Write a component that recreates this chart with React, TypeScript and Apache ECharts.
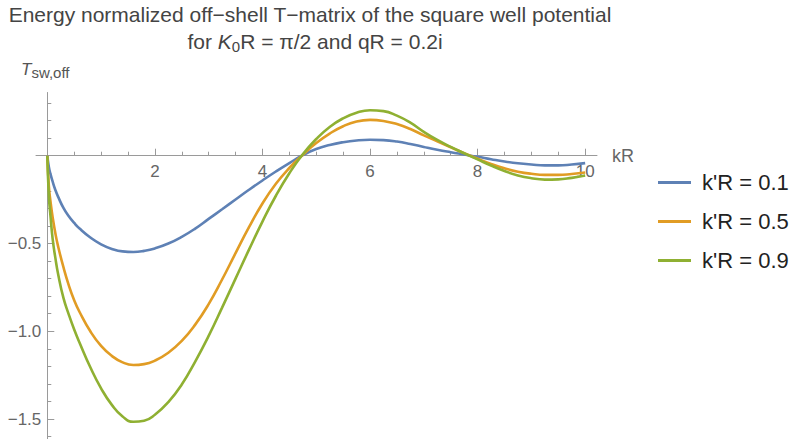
import React, { useEffect, useRef } from "react";
import * as echarts from "echarts";

// kR sample positions shared by the three curves
const kR = [0, 0.03, 0.06, 0.1, 0.15, 0.2, 0.3, 0.4, 0.5, 0.6, 0.8, 1.0, 1.2, 1.4, 1.6, 1.8, 2.0, 2.25, 2.5, 2.75, 3.0, 3.25, 3.5, 3.75, 4.0, 4.25, 4.5, 4.75, 5.0, 5.25, 5.5, 5.75, 6.0, 6.25, 6.5, 6.75, 7.0, 7.25, 7.5, 7.75, 8.0, 8.25, 8.5, 8.75, 9.0, 9.25, 9.5, 9.75, 10];

// T_sw,off for k'R = 0.1
const tK01 = [0, -0.065, -0.105, -0.148, -0.195, -0.233, -0.297, -0.345, -0.383, -0.415, -0.466, -0.505, -0.531, -0.545, -0.548, -0.542, -0.528, -0.5, -0.462, -0.415, -0.36, -0.305, -0.249, -0.194, -0.141, -0.09, -0.042, 0.003, 0.038, 0.061, 0.077, 0.087, 0.091, 0.089, 0.081, 0.067, 0.05, 0.034, 0.02, 0.007, -0.006, -0.02, -0.033, -0.043, -0.05, -0.055, -0.055, -0.05, -0.042];
// T_sw,off for k'R = 0.5
const tK05 = [0, -0.177, -0.262, -0.351, -0.442, -0.515, -0.635, -0.738, -0.823, -0.89, -1.0, -1.083, -1.14, -1.177, -1.192, -1.187, -1.167, -1.122, -1.055, -0.962, -0.845, -0.705, -0.555, -0.407, -0.272, -0.16, -0.07, 0.005, 0.072, 0.126, 0.168, 0.195, 0.204, 0.198, 0.18, 0.152, 0.116, 0.082, 0.048, 0.015, -0.017, -0.047, -0.072, -0.091, -0.103, -0.109, -0.109, -0.104, -0.096];
// T_sw,off for k'R = 0.9
const tK09 = [0, -0.233, -0.346, -0.475, -0.582, -0.672, -0.81, -0.905, -0.99, -1.065, -1.205, -1.325, -1.419, -1.485, -1.515, -1.509, -1.475, -1.403, -1.303, -1.172, -1.026, -0.865, -0.7, -0.535, -0.375, -0.228, -0.1, 0.008, 0.095, 0.164, 0.213, 0.245, 0.259, 0.254, 0.228, 0.188, 0.136, 0.09, 0.05, 0.014, -0.021, -0.056, -0.087, -0.112, -0.128, -0.136, -0.135, -0.126, -0.113];

const seriesNames = ["k'R = 0.1", "k'R = 0.5", "k'R = 0.9"];
const seriesColors = ["#5e81b5", "#e19c24", "#8fb032"];

const xMajorTicks = [2, 4, 6, 8, 10];
const xMinorTicks = [0.5, 1, 1.5, 2.5, 3, 3.5, 4.5, 5, 5.5, 6.5, 7, 7.5, 8.5, 9, 9.5];
const yMajorTicks = [-1.5, -1.0, -0.5];
const yMinorTicks = [-1.6, -1.4, -1.3, -1.2, -1.1, -0.9, -0.8, -0.7, -0.6, -0.4, -0.3, -0.2, -0.1, 0.1, 0.2, 0.3];

const FONT = "'Liberation Sans', Arial, sans-serif";
const AXIS_COLOR = "#9a9a9a";
const LABEL_COLOR = "#666666";

export default function App() {
  const ref = useRef<HTMLDivElement>(null);

  useEffect(() => {
    document.body.style.margin = "0";
    if (!ref.current) return;
    const chart = echarts.init(ref.current, undefined, { renderer: "svg" });

    const X_MIN = -0.21;
    const X_MAX = 10.22;
    const Y_MIN = -1.615;
    const Y_MAX = 0.36;

    // plotting frame
    const left = 36;
    const top = 92.5;
    const width = 561;
    const height = 346.8;
    const pxPerX = width / (X_MAX - X_MIN);
    const pxPerY = height / (Y_MAX - Y_MIN);
    const zeroX = left + (0 - X_MIN) * pxPerX; // where the vertical axis sits
    const zeroY = top + (Y_MAX - 0) * pxPerY; // where the horizontal axis sits

    const tables = [tK01, tK05, tK09];
    const hidden = { show: false };

    chart.setOption({
      animation: false,
      grid: [
        // 0: curves
        { left, top, width, height, containLabel: false, outerBoundsMode: "none" },
        // 1: horizontal axis, bottom edge at T = 0
        { left, top, width, height: zeroY - top, containLabel: false, outerBoundsMode: "none" },
        // 2: vertical axis, left edge at kR = 0
        { left: zeroX, top, width: left + width - zeroX, height, containLabel: false, outerBoundsMode: "none" },
      ],
      legend: {
        orient: "vertical",
        left: 658,
        top: 170.5,
        padding: 0,
        icon: "rect",
        itemWidth: 33,
        itemHeight: 3,
        itemGap: 15,
        textStyle: {
          fontFamily: FONT,
          fontSize: 22,
          color: "#222",
          lineHeight: 24,
          padding: [0, 0, 0, 6],
        },
        data: seriesNames,
      },
      xAxis: [
        { type: "value", gridIndex: 0, min: X_MIN, max: X_MAX, ...hidden },
        {
          type: "value",
          gridIndex: 1,
          min: X_MIN,
          max: X_MAX,
          position: "bottom",
          axisLine: { onZero: false, lineStyle: { color: AXIS_COLOR, width: 1 } },
          axisTick: {
            inside: true,
            length: 7,
            customValues: xMajorTicks,
            lineStyle: { color: AXIS_COLOR },
          },
          axisLabel: {
            customValues: xMajorTicks,
            fontFamily: FONT,
            fontSize: 17,
            color: LABEL_COLOR,
            margin: 7,
          },
          splitLine: { show: false },
          name: "kR",
          nameLocation: "end",
          nameGap: 15,
          nameTextStyle: { fontFamily: FONT, fontSize: 18, color: LABEL_COLOR },
        },
        {
          type: "value",
          gridIndex: 1,
          min: X_MIN,
          max: X_MAX,
          position: "bottom",
          axisLine: { show: false, onZero: false },
          axisTick: {
            inside: true,
            length: 4,
            customValues: xMinorTicks,
            lineStyle: { color: AXIS_COLOR },
          },
          axisLabel: { show: false },
          splitLine: { show: false },
        },
        { type: "value", gridIndex: 2, min: 0, max: 1, ...hidden },
      ],
      yAxis: [
        { type: "value", gridIndex: 0, min: Y_MIN, max: Y_MAX, ...hidden },
        { type: "value", gridIndex: 1, min: 0, max: 1, ...hidden },
        {
          type: "value",
          gridIndex: 2,
          min: Y_MIN,
          max: Y_MAX,
          position: "left",
          axisLine: { onZero: false, lineStyle: { color: AXIS_COLOR, width: 1 } },
          axisTick: {
            inside: true,
            length: 7,
            customValues: yMajorTicks,
            lineStyle: { color: AXIS_COLOR },
          },
          axisLabel: {
            customValues: yMajorTicks,
            fontFamily: FONT,
            fontSize: 17,
            color: LABEL_COLOR,
            margin: 6,
            formatter: (v: number) => (v < 0 ? "\u2212" : "") + Math.abs(v).toFixed(1),
          },
          splitLine: { show: false },
        },
        {
          type: "value",
          gridIndex: 2,
          min: Y_MIN,
          max: Y_MAX,
          position: "left",
          axisLine: { show: false, onZero: false },
          axisTick: {
            inside: true,
            length: 4,
            customValues: yMinorTicks,
            lineStyle: { color: AXIS_COLOR },
          },
          axisLabel: { show: false },
          splitLine: { show: false },
        },
      ],
      series: tables.map((t, i) => ({
        name: seriesNames[i],
        type: "line",
        xAxisIndex: 0,
        yAxisIndex: 0,
        showSymbol: false,
        symbol: "none",
        smooth: 0.5,
        color: seriesColors[i],
        lineStyle: { width: 2.6, color: seriesColors[i] },
        data: kR.map((x, j) => [x, t[j]]),
      })),
      graphic: [
        {
          type: "text",
          x: 310,
          y: 4,
          style: {
            text: "Energy normalized off\u2212shell T\u2212matrix of the square well potential",
            fontFamily: FONT,
            fontSize: 21,
            fill: "#444",
            align: "center",
            verticalAlign: "top",
          },
        },
        {
          type: "text",
          x: 315,
          y: 29,
          style: {
            text: "for {i|K}{s|0}R = \u03c0/2 and qR = 0.2i",
            fontFamily: FONT,
            fontSize: 21,
            lineHeight: 25,
            fill: "#444",
            align: "center",
            verticalAlign: "top",
            rich: {
              i: { fontStyle: "italic", fontFamily: FONT, fontSize: 21, lineHeight: 25, fill: "#444" },
              s: { fontFamily: FONT, fontSize: 15, lineHeight: 15, verticalAlign: "bottom", fill: "#444" },
            },
          },
        },
        {
          type: "text",
          x: 21,
          y: 58,
          style: {
            text: "{t|T}{s|sw,off}",
            fontFamily: FONT,
            fontSize: 16,
            lineHeight: 22,
            fill: "#555",
            verticalAlign: "top",
            rich: {
              t: { fontStyle: "italic", fontFamily: FONT, fontSize: 17, lineHeight: 22, fill: "#555" },
              s: { fontFamily: FONT, fontSize: 15, lineHeight: 14, verticalAlign: "bottom", fill: "#555" },
            },
          },
        },
      ],
    });

    return () => {
      chart.dispose();
    };
  }, []);

  return <div ref={ref} style={{ width: 790, height: 439 }} />;
}
